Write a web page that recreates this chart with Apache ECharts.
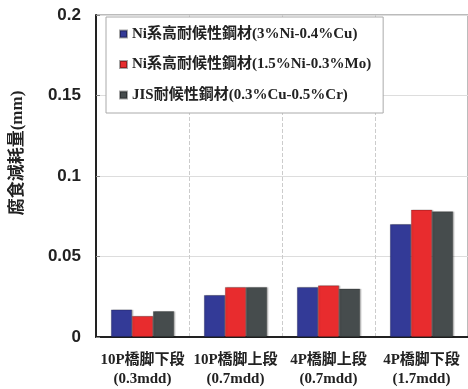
<!DOCTYPE html>
<html>
<head>
<meta charset="utf-8">
<script src="https://cdn.jsdelivr.net/npm/echarts@6/dist/echarts.min.js"></script>
<style>
html,body{margin:0;padding:0;background:#fff;}
#c{width:468px;height:389px;}
</style>
</head>
<body>
<div id="c"></div>
<script>
const categories = ['10P橋脚下段\n(0.3mdd)', '10P橋脚上段\n(0.7mdd)', '4P橋脚上段\n(0.7mdd)', '4P橋脚下段\n(1.7mdd)'];
const seriesNames = ['Ni系高耐候性鋼材(3%Ni-0.4%Cu)', 'Ni系高耐候性鋼材(1.5%Ni-0.3%Mo)', 'JIS耐候性鋼材(0.3%Cu-0.5%Cr)'];
const niCu = [0.017, 0.026, 0.031, 0.070];
const niMo = [0.013, 0.031, 0.032, 0.079];
const jis = [0.016, 0.031, 0.030, 0.078];
const yAxisTitle = '腐食減耗量(mm)';
const colors = ['#333a97', '#e82c2e', '#464c4d'];

const FONT = "'Liberation Serif', 'Noto Sans CJK JP', serif";
const chart = echarts.init(document.getElementById('c'), null, {renderer: 'canvas'});
const values = [niCu, niMo, jis];
chart.setOption({
  animation: false,
  backgroundColor: '#fff',
  grid: {left: 96, top: 15, width: 374, height: 324, show: true, borderColor: '#777', borderWidth: 1},
  legend: {
    orient: 'vertical', left: 106, top: 17,
    padding: [9, 12, 10, 13],
    itemGap: 14.5, itemWidth: 7, itemHeight: 7, icon: 'rect',
    backgroundColor: '#fff', borderColor: '#aaa', borderWidth: 1,
    textStyle: {fontFamily: FONT, fontWeight: 'bold', fontSize: 15, color: '#222', lineHeight: 16},
    data: seriesNames
  },
  xAxis: {
    type: 'category', data: categories,
    axisLine: {lineStyle: {color: '#222', width: 2}},
    axisTick: {show: false},
    axisLabel: {interval: 0, fontFamily: FONT, fontWeight: 'bold', fontSize: 15, color: '#222', lineHeight: 19, margin: 14},
    splitLine: {show: true, interval: 0, lineStyle: {color: '#ccc', type: 'dashed', width: 1}}
  },
  yAxis: {
    type: 'value', min: 0, max: 0.2, interval: 0.05,
    axisLine: {show: true, lineStyle: {color: '#222', width: 2}},
    axisTick: {show: true, inside: true, length: 4, lineStyle: {color: '#888'}},
    axisLabel: {fontFamily: "'Liberation Sans', sans-serif", fontWeight: 'bold', fontSize: 17, color: '#222', margin: 15},
    splitLine: {show: true, lineStyle: {color: '#ddd', width: 1}}
  },
  graphic: [{
    type: 'text', x: 18, y: 153, rotation: Math.PI / 2,
    style: {text: yAxisTitle, fontFamily: FONT, fontWeight: 'bold', fontSize: 17, fill: '#222', textAlign: 'center', textVerticalAlign: 'middle'}
  }],
  series: seriesNames.map((n, i) => ({
    name: n, type: 'bar', data: values[i],
    barWidth: 21, barGap: '0%',
    itemStyle: {color: colors[i], borderColor: 'rgba(0,0,0,0.35)', borderWidth: 0.6,
      shadowColor: 'rgba(0,0,0,0.25)', shadowOffsetX: 1.5, shadowOffsetY: 0, shadowBlur: 1}
  }))
});
</script>
</body>
</html>
